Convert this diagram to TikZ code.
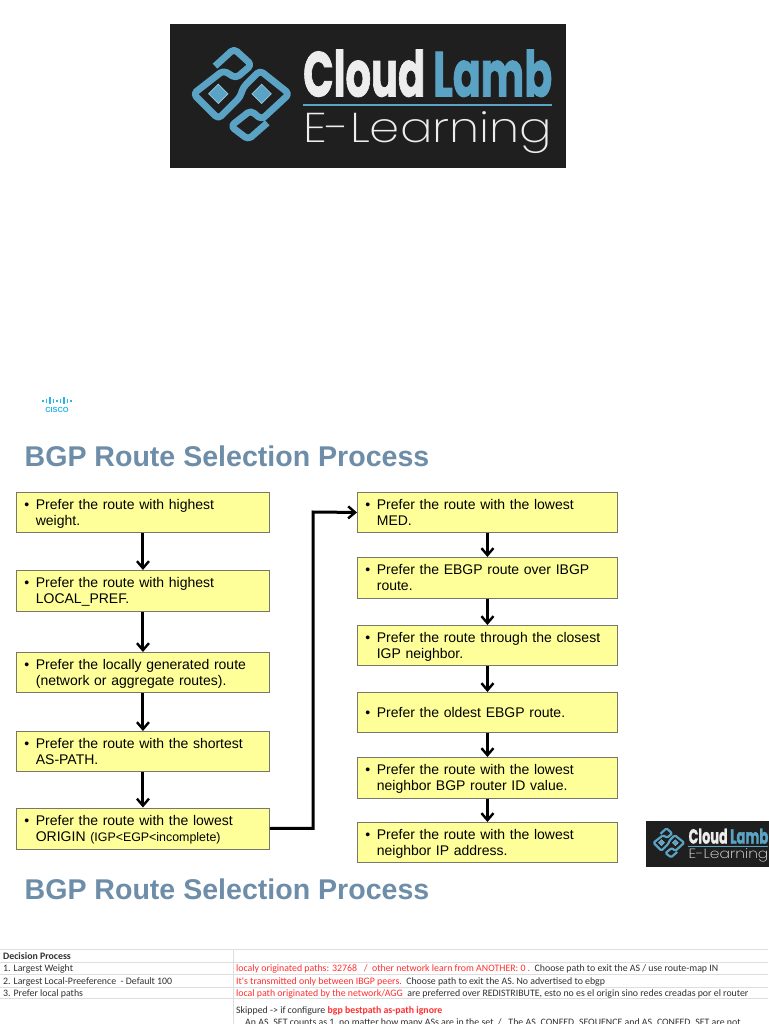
\documentclass[tikz,border=0pt]{standalone}
\usepackage{fontspec}
\setmainfont{Liberation Sans}
\newfontfamily\carl{Carlito}
\newfontfamily\fira{Poppins}[UprightFont=* Bold,UprightFeatures={FakeBold=1.5}]
\newfontfamily\thinf{Poppins}[UprightFont=* ExtraLight]
\usetikzlibrary{arrows.meta,calc}
\definecolor{logobg}{HTML}{1F1F1F}
\definecolor{logoblue}{HTML}{5BA3C4}
\definecolor{logolight}{HTML}{9CCBE0}
\definecolor{logowhite}{HTML}{EDEDED}
\definecolor{titleblue}{HTML}{6D8DA8}
\definecolor{boxfill}{HTML}{FFFF99}
\definecolor{boxline}{HTML}{77776A}
\definecolor{cisco}{HTML}{2BB5E6}
\definecolor{tline}{HTML}{DEDEDE}
\definecolor{tred}{HTML}{FF2F2F}
\definecolor{ttext}{HTML}{303030}
\tikzset{
  stepbox/.style={draw=boxline,line width=.9pt,fill=boxfill,anchor=north west,inner xsep=8pt,inner ysep=0pt,align=left,font=\fontsize{14}{16}\selectfont},
  flow/.style={line width=3pt,-{Straight Barb[length=7pt,width=12pt,line width=2.4pt]}},
  title/.style={anchor=base west,inner sep=0pt,text=titleblue,font=\fontsize{28.55}{32}\selectfont\bfseries},
  cell/.style={anchor=base west,inner sep=0pt,text=ttext,font=\fontsize{9.85}{11}\carl},
  rule/.style={draw=tline,line width=1pt},
  logotext/.style={anchor=south west,inner sep=0pt}
}
\newcommand\btwo[2]{\raisebox{-1.6pt}[\height][\depth]{\begin{tabular}{@{}l@{\hspace{6.5pt}}l@{}}•&#1\\&#2\end{tabular}}}
\newcommand\bone[1]{\raisebox{-1.6pt}[\height][\depth]{\begin{tabular}{@{}l@{\hspace{6.5pt}}l@{}}•&#1\end{tabular}}}
\newcommand\cloudlogo[4]{%
\begin{scope}[shift={(#2,#3)},scale=#4,transform shape]
  \fill[logobg] (0,0) rectangle (396,144);
  \begin{scope}[shift={(-10,-9)},scale=.3333]
    \draw[draw=logoblue,line width=#4*6.8pt,line join=round,rounded corners=#4*4pt] (165,152) -- (222,100) -- (275,148) -- (228,188) -- (190,165)
      -- (100,235) -- (175,310) -- (240,245) -- (250,215) -- (300,165) -- (388,235) -- (305,312) -- (272,285)
      -- (212,332) -- (265,372) -- (322,322);
    \foreach \cx in {175,305}{
      \fill[logoblue] (\cx-29,235) -- (\cx,206) -- (\cx+29,235) -- (\cx,264) -- cycle;
      \draw[logolight,line width=#4*.7pt] (\cx-29,235) -- (\cx,206) -- (\cx+29,235) -- (\cx,264) -- cycle;
    }
    \draw[logoblue,line width=#4*2pt] (428,270) -- (1175,270);
  \end{scope}
  \node[logotext,text=logowhite] (#1c) at (133,72.7) {\resizebox{122pt}{47pt}{\fira Cloud}};
  \node[logotext,text=logoblue] (#1l) at (263,72.7) {\resizebox{119pt}{47pt}{\fira Lamb}};
  \node[logotext,text=logowhite] (#1e) at (133,129) {\resizebox*{249pt}{42pt}{\thinf E-Learning}};
\end{scope}}
\begin{document}
\begin{tikzpicture}[x=1pt,y=-1pt]
\useasboundingbox (0,0) rectangle (768,1024);
\fill[white] (0,0) rectangle (768,1024);
\cloudlogo{a}{170}{24.5}{1}
\cloudlogo{b}{646}{820.5}{.32}
% cisco mark
\foreach \i/\h in {0/1,1/2,2/3.4,3/2,4/1,5/2,6/3.4,7/2,8/1}{
  \draw[cisco,line width=1.1pt] ({43+\i*3.5},{400.5-\h}) -- ({43+\i*3.5},{400.5+\h});
}
\node[anchor=base,inner sep=0pt,text=cisco,font=\fontsize{7.4}{8}\selectfont\bfseries] (cis) at (57,412) {CISCO};
% titles
\node[title] (t1) at (24.5,466.5) {BGP Route Selection Process};
\node[title] (t2) at (24.5,899.5) {BGP Route Selection Process};
% left boxes
\tikzset{lb/.style={stepbox,minimum width=253pt,text width=237pt}}
\tikzset{rb/.style={stepbox,minimum width=260pt,text width=244pt}}
\node[lb,minimum height=40pt] (l1) at (16,492) {\btwo{Prefer the route with highest}{weight.}};
\node[lb,minimum height=41pt] (l2) at (16,570) {\btwo{Prefer the route with highest}{LOCAL\_PREF.}};
\node[lb,minimum height=40pt] (l3) at (16,652) {\btwo{Prefer the locally generated route}{(network or aggregate routes).}};
\node[lb,minimum height=40pt] (l4) at (16,731) {\btwo{Prefer the route with the shortest}{AS-PATH.}};
\node[lb,minimum height=41pt] (l5) at (16,807.5) {\btwo{Prefer the route with the lowest}{ORIGIN {\fontsize{12.4}{16}\selectfont(IGP<EGP<incomplete)}}};
% right boxes
\node[rb,minimum height=40pt] (r1) at (357,492) {\btwo{Prefer the route with the lowest}{MED.}};
\node[rb,minimum height=41pt] (r2) at (357,557) {\btwo{Prefer the EBGP route over IBGP}{route.}};
\node[rb,minimum height=40pt] (r3) at (357,625) {\btwo{Prefer the route through the closest}{IGP neighbor.}};
\node[rb,minimum height=40pt] (r4) at (357,692) {\bone{Prefer the oldest EBGP route.}};
\node[rb,minimum height=41pt] (r5) at (357,757) {\btwo{Prefer the route with the lowest}{neighbor BGP router ID value.}};
\node[rb,minimum height=40pt] (r6) at (357,822) {\btwo{Prefer the route with the lowest}{neighbor IP address.}};
% connectors
\foreach \a/\b in {l1/l2,l2/l3,l3/l4,l4/l5,r1/r2,r2/r3,r3/r4,r4/r5,r5/r6}{
  \draw[flow] (\a.south) -- (\b.north);
}
\coordinate (elbow) at (313,512);
\draw[flow] (l5.east) -| (elbow) -- (r1.west);
% table
\foreach \y in {949.5,962,974.5,987,998.5}{
  \draw[rule] (0,\y) -- (768,\y);
}
\draw[rule] (233.5,949) -- (233.5,1024);
\node[cell,font=\fontsize{9.85}{11}\carl\bfseries] (h1) at (3,959) {Decision Process};
\node[cell] (c1) at (3,971.5) {1. Largest Weight};
\node[cell] (c2) at (3,984) {2. Largest Local-Preeference\ \ - Default 100};
\node[cell] (c3) at (3,996) {3. Prefer local paths};
\node[cell] (d1) at (236,971.5) {\textcolor{tred}{localy originated paths: 32768\ \ \ /\ \ other network learn from ANOTHER: 0 .}\ \ Choose path to exit the AS / use route-map IN};
\node[cell] (d2) at (236,984) {\textcolor{tred}{It's transmitted only between IBGP peers.}\ \ Choose path to exit the AS. No advertised to ebgp};
\node[cell] (d3) at (236,996) {\textcolor{tred}{local path originated by the network/AGG}\ \ are preferred over REDISTRIBUTE, esto no es el origin sino redes creadas por el router};
\node[cell] (d4) at (236,1013) {Skipped -> if configure \textcolor{tred}{\bfseries bgp bestpath as-path ignore}};
\node[cell] (d5) at (245,1025.5) {An AS\_SET counts as 1, no matter how many ASs are in the set\ \ /\ \ \ The AS\_CONFED\_SEQUENCE and AS\_CONFED\_SET are not};
\end{tikzpicture}
\end{document}
